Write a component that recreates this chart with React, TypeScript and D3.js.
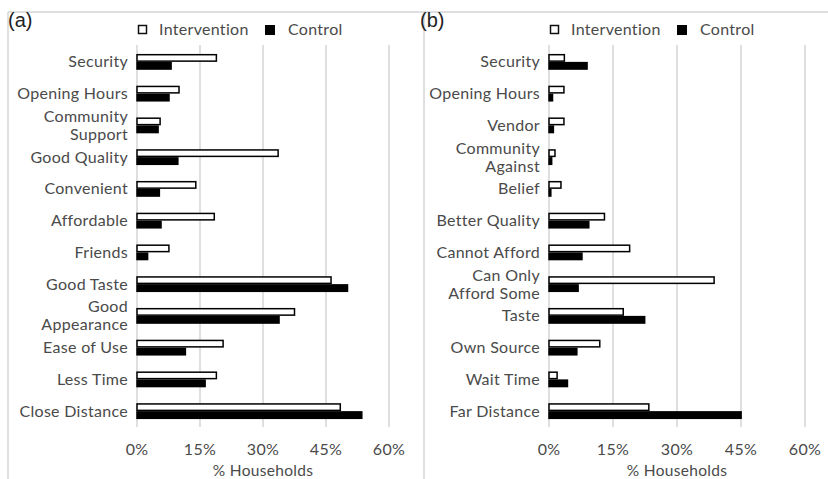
import React from "react";
import * as d3 from "d3";

const leftCategories = [
  "Security",
  "Opening Hours",
  "Community\nSupport",
  "Good Quality",
  "Convenient",
  "Affordable",
  "Friends",
  "Good Taste",
  "Good\nAppearance",
  "Ease of Use",
  "Less Time",
  "Close Distance",
];
const leftIntervention = [18.9, 10.0, 5.5, 33.6, 14.0, 18.4, 7.6, 46.2, 37.5, 20.5, 18.9, 48.4];
const leftControl = [8.3, 7.8, 5.2, 9.9, 5.5, 5.9, 2.7, 50.3, 34.0, 11.7, 16.4, 53.7];

const rightCategories = [
  "Security",
  "Opening Hours",
  "Vendor",
  "Community\nAgainst",
  "Belief",
  "Better Quality",
  "Cannot Afford",
  "Can Only\nAfford Some",
  "Taste",
  "Own Source",
  "Wait Time",
  "Far Distance",
];
const rightIntervention = [3.6, 3.5, 3.5, 1.4, 2.8, 13.0, 18.9, 38.7, 17.4, 11.9, 1.9, 23.4];
const rightControl = [9.1, 1.0, 1.2, 0.8, 0.6, 9.5, 7.9, 7.0, 22.6, 6.7, 4.5, 45.2];

const tickValues = [0, 15, 30, 45, 60];
const seriesNames = ["Intervention", "Control"];
const axisTitle = "% Households";

const FONT = "Lato, 'Open Sans', sans-serif";
const FS = 16;
const LS = 0.3;
const TEXT = "#4a4a4a";
const GRID = "#d4d4d4";

type PanelProps = {
  label: string;
  x0: number;
  x1: number;
  categories: string[];
  intervention: number[];
  control: number[];
};

function Panel({ label, x0, x1, categories, intervention, control }: PanelProps) {
  const x = d3.scaleLinear().domain([0, 60]).range([x0, x1]);
  const y = d3
    .scaleBand<string>()
    .domain(categories)
    .range([46, 427])
    .paddingInner(0.5)
    .paddingOuter(0.25);
  const sub = d3.scaleBand<string>().domain(seriesNames).range([0, y.bandwidth()]);
  const bh = sub.bandwidth();
  return (
    <g>
      <text x={x0 - 129} y={27} fontFamily="'Liberation Sans', Arial, sans-serif" fontSize={20} fill="#222">
        {label}
      </text>
      {tickValues.map((t) => (
        <line key={"g" + t} x1={x(t)} x2={x(t)} y1={45} y2={427} stroke={GRID} strokeWidth={1.5} />
      ))}
      {tickValues.map((t) => (
        <text key={"t" + t} x={x(t)} y={455} textAnchor="middle" fontFamily={FONT} fontSize={FS} letterSpacing={LS} fill={TEXT}>
          {t + "%"}
        </text>
      ))}
      <text x={(x(0) + x(60)) / 2} y={475.5} textAnchor="middle" fontFamily={FONT} fontSize={15.5} letterSpacing={LS} fill={TEXT}>
        {axisTitle}
      </text>
      {/* legend */}
      <rect x={x0 + 1.5} y={25.5} width={8} height={8} fill="#fff" stroke="#111" strokeWidth={1.5} />
      <text x={x0 + 22} y={35} fontFamily={FONT} fontSize={FS} letterSpacing={LS} fill={TEXT}>
        {seriesNames[0]}
      </text>
      <rect x={x0 + 128} y={25} width={10} height={10} fill="#000" />
      <text x={x0 + 151} y={35} fontFamily={FONT} fontSize={FS} letterSpacing={LS} fill={TEXT}>
        {seriesNames[1]}
      </text>
      {categories.map((c, i) => {
        const yb = y(c)!;
        const cy = yb + y.bandwidth() / 2;
        const lines = c.split("\n");
        return (
          <g key={c}>
            <rect
              x={x(0)}
              y={yb + sub("Intervention")! + 0.75}
              width={Math.max(0, x(intervention[i]) - x(0))}
              height={bh - 1.5}
              fill="#fff"
              stroke="#000"
              strokeWidth={1.5}
            />
            <rect
              x={x(0) - 0.75}
              y={yb + sub("Control")!}
              width={Math.max(0, x(control[i]) - x(0) + 0.75)}
              height={bh}
              fill="#000"
            />
            {lines.map((ln, k) => (
              <text
                key={k}
                x={x0 - 9}
                y={cy + 5.5 + (k - (lines.length - 1) / 2) * 18}
                textAnchor="end"
                fontFamily={FONT}
                fontSize={FS}
                letterSpacing={LS}
                fill={TEXT}
              >
                {ln}
              </text>
            ))}
          </g>
        );
      })}
    </g>
  );
}

export default function App() {
  return (
    <svg
      width={828}
      height={479}
      style={{ position: "absolute", left: 0, top: 0, background: "#fff" }}
    >
      <rect x={0} y={0} width={828} height={479} fill="#fff" />
      <line x1={8} x2={828} y1={12} y2={12} stroke={GRID} strokeWidth={1.5} />
      <line x1={8} x2={8} y1={12} y2={479} stroke={GRID} strokeWidth={1.5} />
      <line x1={424} x2={424} y1={12} y2={479} stroke={GRID} strokeWidth={1.5} />
      <Panel
        label="(a)"
        x0={137}
        x1={389}
        categories={leftCategories}
        intervention={leftIntervention}
        control={leftControl}
      />
      <Panel
        label="(b)"
        x0={549}
        x1={805}
        categories={rightCategories}
        intervention={rightIntervention}
        control={rightControl}
      />
    </svg>
  );
}
